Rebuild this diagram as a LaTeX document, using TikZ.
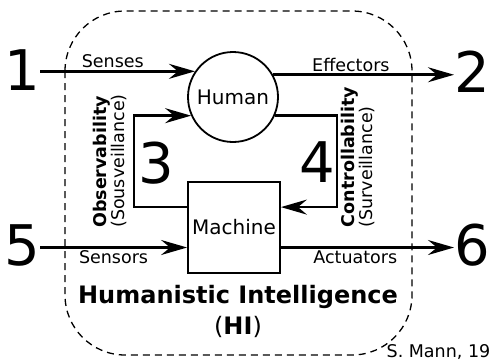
\documentclass[tikz,border=0pt]{standalone}
\usepackage{fontspec}
\setmainfont{DejaVu Sans}
\usetikzlibrary{arrows.meta}
\usetikzlibrary{positioning}

\begin{document}
\begin{tikzpicture}[x=1pt,y=-1pt,
	flow/.style={line width=2.6pt,-{Stealth[length=26pt,width=15pt,inset=9pt]}},
	lbl/.style={font=\fontsize{17.5}{17.5}\selectfont,inner sep=2pt},
	bignum/.style={font=\fontsize{56}{56}\selectfont,inner sep=0pt}]
	\useasboundingbox (0,0) rectangle (491,360);
	% Boundary %
	\draw [dashed,dash pattern=on 7pt off 5pt,line width=1.3pt,rounded corners=60pt] (65,11) rectangle (412,355);
	% Human and Machine %
	\node [draw,circle,line width=1.8pt,minimum size=90pt,inner sep=0pt,font=\fontsize{20}{20}\selectfont] (human) at (233,97) {Human};
	\node [draw,rectangle,line width=1.8pt,minimum width=92pt,minimum height=91pt,inner sep=0pt,font=\fontsize{20}{20}\selectfont] (machine) at (234,227.5) {Machine};
	% Numbers %
	\node [bignum] (n1) at (22,70) {1};
	\node [bignum] (n2) at (472,72) {2};
	\node [bignum] (n5) at (22,245) {5};
	\node [bignum] (n6) at (472,245) {6};
	\node [bignum] (n3) at (156,163) {3};
	\node [bignum] (n4) at (317,162) {4};
	\coordinate (sens) at ([yshift=-20pt]machine.west);
	\coordinate (act) at ([yshift=-20pt]machine.east);
	% Lines and Text %
	\draw [flow] (human.146 -| n1.east) -- (human.146) node [lbl,above,pos=0.47] {Senses};
	\draw [flow] (human.29) -- (human.29 -| n2.west) node [lbl,above,pos=0.43] {Effectors};
	\draw [flow] (sens -| n5.east) -- (sens) node [lbl,below,midway] {Sensors};
	\draw [flow] (act) -- (act -| n6.west) node [lbl,below,pos=0.43] {Actuators};
	\draw [flow] ([yshift=-26pt]machine.north west) -- ++(-53,0) |- (human.204);
	\draw [flow] (human.336) -| ([xshift=56pt,yshift=-26pt]machine.north east) -- ([yshift=-26pt]machine.north east);
	\node [lbl,rotate=90,align=left,font=\fontsize{17.5}{16.5}\selectfont] (obs) at (110,161) {\textbf{Observability}\\(Sousveillance)};
	\node [lbl,rotate=90,align=left,font=\fontsize{17.5}{16.5}\selectfont] (ctl) at (358,157) {\textbf{Controllability}\\(Surveillance)};
	\node [font=\fontsize{24}{24}\selectfont\bfseries] (title) at (238,297) {Humanistic Intelligence};
	\node [font=\fontsize{24}{24}\selectfont,below=1pt of title] (hi) {(\textbf{HI})};
	\node [lbl,anchor=base east,inner sep=0.5pt] (credit) at (491,357) {S. Mann, 19};
\end{tikzpicture}
\end{document}
